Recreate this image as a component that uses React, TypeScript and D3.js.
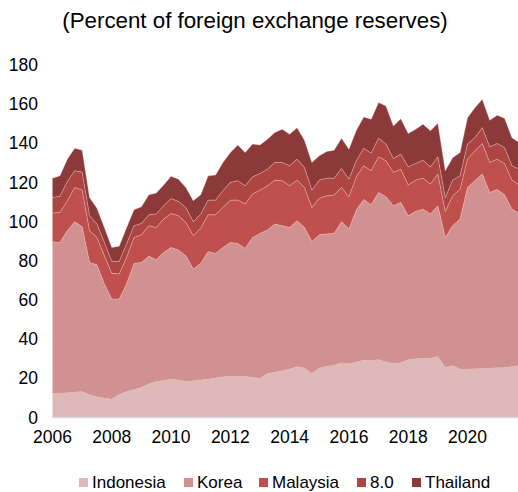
import React from "react";
import * as d3 from "d3";

const startYear = 2006;
const quarters = 64;

const indonesia = [12.4, 12.5, 12.6, 13.0, 13.3, 11.8, 10.6, 10.0, 9.4, 11.8, 13.3, 14.3, 15.5, 17.2, 18.5, 18.9, 19.7, 19.2, 18.5, 18.8, 19.2, 19.7, 20.2, 20.8, 21.1, 21.0, 21.0, 20.5, 20.0, 22.6, 23.1, 24.0, 24.8, 26.0, 25.3, 22.6, 25.3, 26.0, 26.8, 27.9, 27.4, 28.3, 29.4, 29.1, 29.6, 28.5, 27.7, 27.9, 29.6, 30.0, 30.3, 30.4, 31.1, 25.7, 26.5, 24.8, 24.8, 24.9, 25.0, 25.3, 25.4, 25.5, 26.0, 26.5];
const korea = [77.3, 76.9, 82.8, 86.9, 84.1, 67.4, 67.4, 58.2, 51.1, 48.7, 54.9, 64.4, 63.7, 65.1, 62.1, 65.4, 67.1, 66.3, 64.1, 57.0, 59.5, 65.0, 63.6, 66.0, 68.3, 67.9, 65.3, 71.4, 74.0, 73.1, 75.7, 73.9, 72.2, 74.5, 71.7, 67.3, 68.0, 67.7, 67.2, 72.0, 68.8, 77.6, 81.9, 79.5, 85.3, 84.2, 80.4, 81.9, 73.4, 75.2, 76.1, 73.5, 77.0, 66.2, 71.4, 76.5, 92.6, 96.0, 99.3, 89.6, 91.0, 88.2, 80.4, 77.7];
const malaysia = [14.7, 15.3, 15.3, 17.5, 18.7, 16.2, 13.9, 14.4, 13.1, 12.8, 13.5, 13.2, 14.1, 15.6, 16.4, 17.0, 17.4, 17.5, 17.0, 17.0, 18.0, 18.8, 19.7, 20.4, 21.6, 22.1, 22.7, 22.2, 22.1, 22.6, 22.4, 23.0, 21.3, 20.7, 20.4, 17.3, 18.7, 19.5, 19.6, 17.5, 16.5, 17.0, 17.2, 17.4, 18.2, 18.4, 17.0, 17.0, 15.7, 16.0, 15.8, 15.3, 16.2, 13.3, 15.3, 15.3, 14.5, 15.3, 15.6, 15.3, 15.5, 16.0, 14.8, 14.5];
const eight = [7.9, 8.3, 9.8, 8.6, 9.2, 7.6, 6.9, 6.8, 6.1, 6.4, 6.9, 6.0, 5.8, 5.6, 6.9, 6.8, 7.6, 7.3, 7.6, 7.1, 7.2, 7.5, 7.5, 8.6, 9.0, 9.9, 9.3, 8.8, 8.5, 8.5, 9.0, 9.3, 10.2, 10.7, 10.2, 8.9, 9.2, 9.0, 8.6, 9.7, 9.0, 8.2, 9.0, 9.0, 9.5, 8.5, 7.1, 7.7, 9.3, 8.5, 9.2, 8.8, 8.8, 7.1, 8.0, 6.8, 7.7, 6.7, 8.1, 8.0, 8.0, 8.1, 7.3, 8.1];
const thailand = [9.9, 10.4, 11.4, 11.5, 11.2, 9.3, 8.1, 7.6, 7.1, 7.8, 8.4, 8.2, 8.5, 10.2, 10.7, 10.6, 11.4, 11.4, 10.2, 10.8, 9.8, 12.4, 12.8, 14.4, 15.3, 18.2, 17.0, 16.7, 14.6, 15.3, 15.3, 17.0, 16.2, 16.1, 14.0, 14.1, 12.4, 13.6, 14.3, 15.5, 15.3, 15.6, 16.0, 17.3, 18.2, 19.5, 16.7, 18.1, 17.0, 17.5, 18.4, 18.4, 17.2, 13.7, 11.5, 11.9, 13.5, 15.3, 14.5, 13.6, 14.5, 15.0, 14.4, 13.6];

const seriesNames = ["Indonesia", "Korea", "Malaysia", "8.0", "Thailand"];
const seriesValues = [indonesia, korea, malaysia, eight, thailand];
const colors = ["#dfb9b9", "#d19191", "#c0504d", "#ad4643", "#8c3a39"];
const yTicks = [0, 20, 40, 60, 80, 100, 120, 140, 160, 180];
const xTickYears = [2006, 2008, 2010, 2012, 2014, 2016, 2018, 2020];
const title = "(Percent of foreign exchange reserves)";

const W = 518;
const H = 492;
const FONT = "'Liberation Sans', Arial, sans-serif";

export default function App() {
  const rows = d3.range(quarters).map((i) => {
    const r: Record<string, number> = { t: startYear + i / 4 };
    seriesNames.forEach((n, k) => (r[n] = seriesValues[k][i]));
    return r;
  });
  const stacked = d3.stack<Record<string, number>>().keys(seriesNames)(rows);

  const x = d3.scaleLinear().domain([2006, 2020]).range([52.5, 467.5]);
  const y = d3.scaleLinear().domain([0, 180]).range([417.5, 65]);

  const area = d3
    .area<d3.SeriesPoint<Record<string, number>>>()
    .x((d) => x(d.data.t))
    .y0((d) => y(d[0]))
    .y1((d) => y(d[1]));
  const topLine = d3
    .line<d3.SeriesPoint<Record<string, number>>>()
    .x((d) => x(d.data.t))
    .y((d) => y(d[1]));

  const legendX = [79, 184, 259, 357, 412];

  return (
    <svg
      width={W}
      height={H}
      style={{ position: "absolute", left: 0, top: 0, background: "#fff" }}
      fontFamily={FONT}
    >
      <text x={255} y={28} textAnchor="middle" fontSize={22.3} fill="#000">
        {title}
      </text>
      {stacked.map((s, k) => (
        <path key={s.key} d={area(s) || ""} fill={colors[k]} />
      ))}
      {stacked.slice(1).map((s) => (
        <path
          key={"l" + s.key}
          d={topLine(s) || ""}
          fill="none"
          stroke="rgba(255,220,220,0.45)"
          strokeWidth={0.8}
        />
      ))}
      <line x1={x(2006)} x2={W} y1={y(0)} y2={y(0)} stroke="#d9d9d9" strokeWidth={1.5} />
      {yTicks.map((v) => (
        <text key={v} x={38} y={y(v)} dy="0.35em" textAnchor="end" fontSize={17.5} fill="#000">
          {v}
        </text>
      ))}
      {xTickYears.map((yr) => (
        <text key={yr} x={x(yr)} y={443} textAnchor="middle" fontSize={17.5} fill="#000">
          {yr}
        </text>
      ))}
      {seriesNames.map((n, k) => (
        <g key={n}>
          <rect x={legendX[k]} y={478} width={9} height={9} fill={colors[k]} />
          <text x={legendX[k] + 13} y={488} fontSize={17} fill="#000">
            {n}
          </text>
        </g>
      ))}
    </svg>
  );
}
